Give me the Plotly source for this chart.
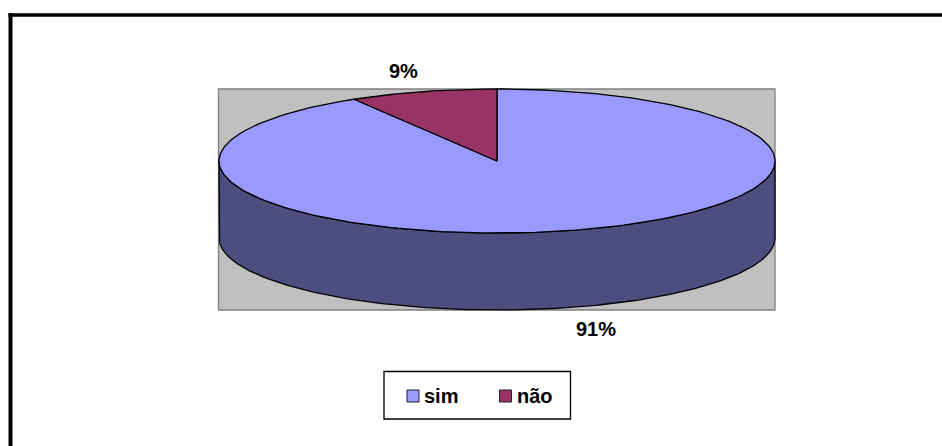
import numpy as np
import plotly.graph_objects as go

categories = ["sim", "não"]
values = [91.4, 8.6]
colors = ["#9999FF", "#993366"]
side_color = "#4D4D80"
wall_color = "#C0C0C0"
FONT = "Liberation Sans, Arial, sans-serif"
W, H = 942, 446
cx, cy, rx, ry, depth = 497, 161, 278, 72, 77


def rim(a0, a1, n=240, dy=0):
    """Points of the pie rim; angle is clockwise from 12 o'clock, in degrees."""
    t = np.radians(np.linspace(a0, a1, n))
    return cx + rx * np.sin(t), cy + dy - ry * np.cos(t)


share = 360 * np.array(values) / sum(values)
fig = go.Figure()

# side wall (front half of the pie)
xa, ya = rim(90, 270)
xb, yb = rim(270, 90, dy=depth)
fig.add_trace(go.Scatter(
    x=np.r_[xa, xb, xa[0]], y=np.r_[ya, yb, ya[0]], mode="lines", fill="toself",
    fillcolor=side_color, line=dict(color="black", width=1.3),
    hoverinfo="skip", showlegend=False))

# top faces
start = 0
for name, sweep, color in zip(categories, share, colors):
    x, y = rim(start, start + sweep)
    fig.add_trace(go.Scatter(
        x=np.r_[cx, x, cx], y=np.r_[cy, y, cy], mode="lines", fill="toself",
        fillcolor=color, line=dict(color="black", width=1.3),
        name=name, showlegend=False, hoverinfo="name"))
    start += sweep

# legend swatches
for name, color, sx in zip(categories, colors, [413, 505.5]):
    fig.add_trace(go.Scatter(
        x=[sx], y=[396], mode="markers",
        marker=dict(symbol="square", size=12, color=color,
                    line=dict(color="#222222", width=1)),
        cliponaxis=False, hoverinfo="skip", showlegend=False))

labels = [f"{round(v)}%" for v in values]
annotations = [
    dict(x=596, y=329, text=f"<b>{labels[0]}</b>", xanchor="center"),
    dict(x=403, y=71, text=f"<b>{labels[1]}</b>", xanchor="center"),
    dict(x=423.5, y=395.5, text=f"<b>{categories[0]}</b>", xanchor="left"),
    dict(x=516.5, y=395.5, text=f"<b>{categories[1]}</b>", xanchor="left"),
]
for a in annotations:
    a.update(xref="x", yref="y", showarrow=False, yanchor="middle",
             xshift=0, borderpad=0, borderwidth=0,
             font=dict(family=FONT, size=20, color="black"))

shapes = [
    dict(type="rect", x0=218.5, x1=775, y0=89, y1=310, layer="below",
         fillcolor=wall_color, line=dict(color="#808080", width=1.3)),
    dict(type="rect", x0=384, x1=570.5, y0=371.5, y1=419, layer="below",
         fillcolor="white", line=dict(color="black", width=1.3)),
    dict(type="line", x0=10.5, x1=10.5, y0=13, y1=H, layer="below",
         line=dict(color="black", width=4)),
    dict(type="line", x0=8.5, x1=W, y0=15, y1=15, layer="below",
         line=dict(color="black", width=3.5)),
]

fig.update_layout(
    width=W, height=H, margin=dict(l=0, r=0, t=0, b=0),
    paper_bgcolor="white", plot_bgcolor="white", showlegend=False,
    xaxis=dict(range=[0, W], visible=False, fixedrange=True),
    yaxis=dict(range=[H, 0], visible=False, fixedrange=True),
    shapes=shapes, annotations=annotations,
)
fig.write_html("out.html", config=dict(displayModeBar=False),
               post_script="document.body.style.margin='0';")
